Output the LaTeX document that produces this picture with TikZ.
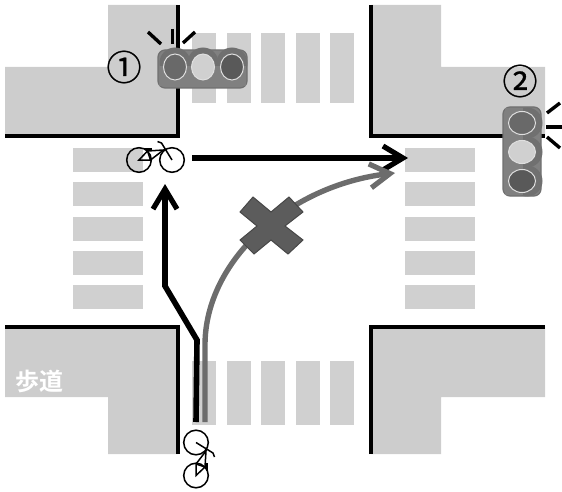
\documentclass[tikz,border=0pt]{standalone}
\usepackage{fontspec}
\newfontfamily\cjk{Noto Sans CJK JP}
\newfontfamily\cjkb{Noto Sans CJK JP Bold}
\newfontfamily\circfont[FakeBold=0.8]{Noto Sans CJK JP}
\usetikzlibrary{arrows.meta,shapes.geometric}
\definecolor{walk}{HTML}{CDCDCD}
\definecolor{stripe}{HTML}{D0D0D0}
\definecolor{curveg}{HTML}{6C6C6C}
\definecolor{case}{HTML}{808080}
\definecolor{ring}{HTML}{707070}
\tikzset{
  x=1pt,y=-1pt,
  kerb/.style={line width=4pt,black,line cap=butt,line join=miter},
  walkfill/.style={fill=walk,draw=none},
  stripefill/.style={fill=stripe,draw=none},
  ray/.style={line width=3.4pt,black},
  housing/.style={fill=case,draw=ring,line width=1.2pt,rounded corners=7pt},
  lamp/.style={ellipse,minimum width=#1,inner sep=0pt,draw=white!75!gray,line width=1pt},
  bump/.style={circle,minimum size=31pt,inner sep=0pt,fill=ring,draw=none},
  thickroute/.style={line width=5.6pt,black,line join=miter},
  grayroute/.style={line width=5.4pt,curveg},
  openhead/.style={-{Straight Barb[length=20pt,width=24pt,line width=5.2pt]}},
  bikeline/.style={line width=1.5pt,black},
  digit/.style={font=\circfont\fontsize{35}{35}\selectfont,inner sep=0pt},
}
\newcommand{\bicycle}{%
  \draw[bikeline] (-16.5,3) circle (12.3) (16.5,3) circle (12.3);
  \draw[bikeline] (-16.5,3) -- (-8,-6) -- (-5,3) -- cycle;
  \draw[bikeline] (-8,-6) -- (8,-7) -- (-5,3);
  \draw[bikeline] (16.5,3) -- (6,-14) -- (2,-15.5);
  \draw[line width=2pt] (-12,-8) -- (-4,-8);
  \draw[bikeline] (-9,-8) -- (-8,-6);
}
\begin{document}
\begin{tikzpicture}
\useasboundingbox (0,0) rectangle (562,492);
% sidewalks
\fill[walkfill] (108,5) -- (178,5) -- (178,136) -- (5,136) -- (5,67) -- (108,67) -- cycle;
\fill[walkfill] (371,5) -- (441,5) -- (441,67) -- (545,67) -- (545,136) -- (371,136) -- cycle;
\fill[walkfill] (5,326) -- (178,326) -- (178,454) -- (108,454) -- (108,397) -- (5,397) -- cycle;
\fill[walkfill] (371,326) -- (545,326) -- (545,397) -- (441,397) -- (441,454) -- (371,454) -- cycle;
% crosswalks
\foreach \sx in {192,226.5,261,295.5,330}{
  \fill[stripefill] (\sx,33) rectangle +(24,70);
  \fill[stripefill] (\sx,361) rectangle +(24,64);
}
\foreach \sy in {148,182,217,251,285}{
  \fill[stripefill] (73,\sy) rectangle +(70,24);
  \fill[stripefill] (405,\sy) rectangle +(70,24);
}
% kerbs
\draw[kerb] (178,5) -- (178,136.5) -- (5,136.5);
\draw[kerb] (371,5) -- (371,136.5) -- (545,136.5);
\draw[kerb] (5,326.5) -- (178,326.5) -- (178,454);
\draw[kerb] (371,454) -- (371,326.5) -- (545,326.5);
% sidewalk label
\node[text=white,inner sep=0pt,font=\cjkb\fontsize{24}{24}\selectfont] (walklabel) at (39,381) {歩道};
% signal 1
\fill[housing] (158,50) rectangle (247,88);
\node[bump] (b11) at (175,63) {};
\node[bump] (b12) at (203,63) {};
\node[bump] (b13) at (232,63) {};
\fill[case] (159,66) rectangle (246,86);
\node[lamp=23pt,minimum height=26pt,fill=ring!105] (l11) at (175,67) {};
\node[lamp=23pt,minimum height=26pt,fill=stripe] (l12) at (203,67) {};
\node[lamp=23pt,minimum height=26pt,fill=black!65] (l13) at (232,67) {};
\draw[ray] (148,32) -- (161,44);
\draw[ray] (172.5,29) -- (172.5,44);
\draw[ray] (183,43) -- (195,32);
\node[digit] (n1) at (124,67) {①};
% signal 2
\fill[housing] (503,107) rectangle (541,196);
\node[bump] (b21) at (527,123) {};
\node[bump] (b22) at (527,152) {};
\node[bump] (b23) at (527,181) {};
\fill[case] (505,108) rectangle (523,195);
\node[lamp=27pt,minimum height=23pt,fill=ring!105] (l21) at (522,123) {};
\node[lamp=27pt,minimum height=23pt,fill=stripe] (l22) at (522,152) {};
\node[lamp=27pt,minimum height=23pt,fill=black!65] (l23) at (522,181) {};
\draw[ray] (547,113) -- (560,103);
\draw[ray] (546,127) -- (562,127);
\draw[ray] (547,137) -- (560,148);
\node[digit] (n2) at (520,81) {②};
% bicycles
\begin{scope}[shift={(155.5,157)}] \bicycle \end{scope}
\begin{scope}[cm={0,1,1,0,(199,459)}] \bicycle \end{scope}
% routes
\coordinate (start) at (196,422);
\coordinate (gstart) at (205,422);
\coordinate (bend1) at (197,340);
\coordinate (bend2) at (165,286);
\coordinate (gend) at (395,173);
\coordinate (hstart) at (192,158);
\coordinate (hend) at (408,158);
\coordinate (vend) at (165,184);
\draw[thickroute,openhead] (start) -- (bend1) -- (bend2) -- (vend);
\draw[thickroute,openhead] (hstart) -- (hend);
\draw[grayroute,openhead] (gstart) -- (205,345) .. controls (205,260) and (290,185) .. (gend);
% cross
\fill[fill=black!64,draw=black!72,line width=1pt]
 (253,197) -- (271,212) -- (289,197) -- (303,212) -- (285,226) -- (303,240) -- (288,254)
 -- (271,240) -- (254,254) -- (240,240) -- (257,226) -- (240,212) -- cycle;
\end{tikzpicture}
\end{document}
